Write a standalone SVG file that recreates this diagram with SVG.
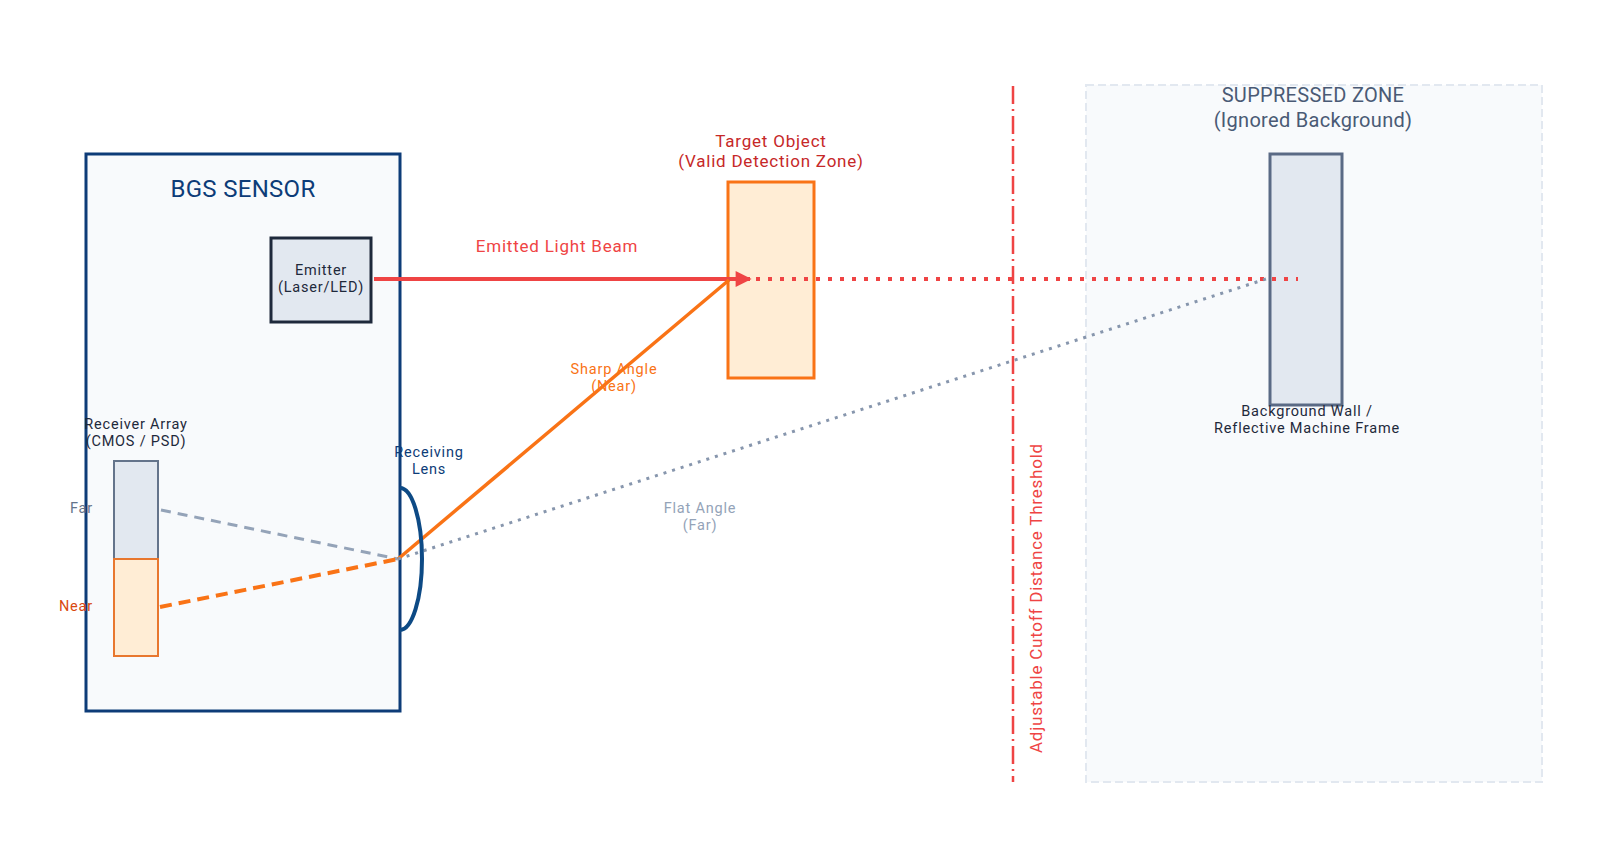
<svg xmlns="http://www.w3.org/2000/svg" width="1600" height="866" viewBox="0 0 1600 866">
<style>
text{font-family:Roboto,"Open Sans","Liberation Sans",sans-serif;}
.c{text-anchor:middle;}
.s14{font-size:14.5px;letter-spacing:0.8px;}
.s16{font-size:17px;letter-spacing:0.78px;}
.navy{fill:#0d3c78;}
.dark{fill:#1e293b;}
</style>
<defs>
<marker id="arr" viewBox="0 0 10 10" refX="9" refY="5" markerWidth="5" markerHeight="4" orient="auto" markerUnits="strokeWidth">
<path d="M0,0 L10,5 L0,10 z" fill="#ef4444"/>
</marker>
</defs>
<rect width="1600" height="866" fill="#ffffff"/>

<g id="suppressed-zone">
<rect x="1086" y="85" width="456" height="697" fill="#f8fafc" stroke="#e2e8f0" stroke-width="2" stroke-dasharray="8,4"/>
<text class="c" font-size="20" letter-spacing="0.3" fill="#4a5a75"><tspan x="1313" y="102">SUPPRESSED ZONE</tspan><tspan x="1313" y="127">(Ignored Background)</tspan></text>
</g>

<g id="background-wall">
<rect x="1270" y="154" width="72" height="251" fill="#e2e8f0" stroke="#5a6a85" stroke-width="3"/>
<text class="c s14 dark"><tspan x="1307" y="416">Background Wall /</tspan><tspan x="1307" y="433">Reflective Machine Frame</tspan></text>
</g>

<g id="bgs-sensor">
<rect x="86" y="154" width="314" height="557" fill="#f8fafc" stroke="#0d3c78" stroke-width="3"/>
<text class="c navy" x="243" y="197" font-size="24" letter-spacing="0.3">BGS SENSOR</text>
</g>

<g id="emitter">
<rect x="271" y="238" width="100" height="84" fill="#e2e8f0" stroke="#1e293b" stroke-width="3"/>
<text class="c s14 dark"><tspan x="321" y="275">Emitter</tspan><tspan x="321" y="292">(Laser/LED)</tspan></text>
</g>

<g id="receiver-array">
<rect x="114" y="461" width="44" height="98" fill="#e2e8f0" stroke="#64748b" stroke-width="2"/>
<rect x="114" y="559" width="44" height="97" fill="#ffedd5" stroke="#e8772e" stroke-width="2"/>
<text class="c s14 dark"><tspan x="136" y="429">Receiver Array</tspan><tspan x="136" y="446">(CMOS / PSD)</tspan></text>
<text class="s14" x="93" y="513" fill="#64748b" text-anchor="end">Far</text>
<text class="s14" x="93" y="611" fill="#d9480f" text-anchor="end">Near</text>
</g>

<g id="target-object">
<rect x="728" y="182" width="86" height="196" fill="#ffedd5" stroke="#f97316" stroke-width="3"/>
<text class="c s16" fill="#c62828"><tspan x="771" y="147">Target Object</tspan><tspan x="771" y="167">(Valid Detection Zone)</tspan></text>
</g>

<g id="cutoff-threshold">
<line x1="1013" y1="86" x2="1013" y2="782" stroke="#ef4444" stroke-width="2.5" stroke-dasharray="18,5,2,5"/>
<text class="c s16" transform="translate(1042,598) rotate(-90)" fill="#ef4444">Adjustable Cutoff Distance Threshold</text>
</g>

<g id="connectors">
<line x1="374" y1="279" x2="750" y2="279" stroke="#ef4444" stroke-width="4" marker-end="url(#arr)"/>
<line x1="756" y1="279" x2="1298" y2="279" stroke="#ef4444" stroke-width="4" stroke-dasharray="4,8"/>
<line x1="161" y1="510" x2="398" y2="559" stroke="#94a3b8" stroke-width="3" stroke-dasharray="10,7"/>
<line x1="160" y1="607" x2="398" y2="559" stroke="#f97316" stroke-width="4" stroke-dasharray="12,7"/>
<line x1="398" y1="559" x2="729" y2="280" stroke="#f97316" stroke-width="3.5"/>
<line x1="398" y1="559" x2="1266" y2="279" stroke="#8796ad" stroke-width="3" stroke-dasharray="3,6"/>
<text class="c s16" x="557" y="252" fill="#ef4444">Emitted Light Beam</text>
<text class="c s14" fill="#f97316"><tspan x="614" y="374">Sharp Angle</tspan><tspan x="614" y="391">(Near)</tspan></text>
<text class="c s14" fill="#94a3b8"><tspan x="700" y="513">Flat Angle</tspan><tspan x="700" y="530">(Far)</tspan></text>
</g>

<g id="receiving-lens">
<path d="M400,488 A22,71 0 0 1 400,630" fill="none" stroke="#0d4a85" stroke-width="4"/>
<text class="c s14 navy"><tspan x="429" y="457">Receiving</tspan><tspan x="429" y="474">Lens</tspan></text>
</g>
</svg>
